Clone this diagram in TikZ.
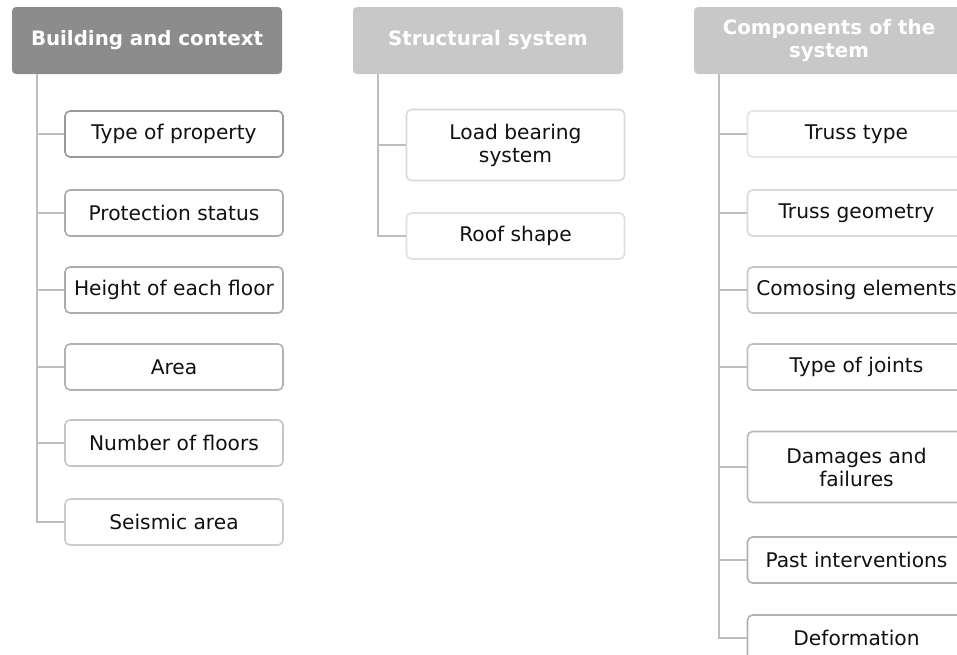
\documentclass[tikz,border=0pt]{standalone}
\usepackage{fontspec}
\setmainfont{DejaVu Sans}
\usetikzlibrary{positioning}

\definecolor{headdark}{HTML}{8C8C8C}
\definecolor{headlight}{HTML}{C8C8C8}
\definecolor{stem}{HTML}{BEBEBE}
\definecolor{ink}{HTML}{111111}

\tikzset{
  head/.style={rounded corners=4pt, text=white, font=\fontsize{19.8}{23}\selectfont\bfseries,
    minimum width=270pt, minimum height=67pt, align=center, inner sep=0pt},
  item/.style={draw=#1, line width=1.6pt, rounded corners=5pt, fill=white, text=ink,
    font=\fontsize{20.2}{23}\selectfont, minimum width=218pt, minimum height=46pt,
    align=center, inner sep=0pt},
  item/.default={gray!70},
  tall/.style={minimum height=71pt},
  trunk/.style={stem, line width=2.6pt}
}

\begin{document}
\begin{tikzpicture}[x=1pt,y=-1pt]
    \useasboundingbox[fill=white] (0,0) rectangle (957,654);

    % the three headers
    \node[head, fill=headdark]  (hb) at (147,40.5) {Building and context};
    \node[head, fill=headlight] (hs) at (488,40.5) {Structural system};
    \node[head, fill=headlight] (hc) at (829,40.5) {Components of the\\system};

    % first column
    \node[item=gray!80] (b1) at (174,134) {Type of property};
    \node[item=gray!65] (b2) at (174,213) {Protection status};
    \node[item=gray!65] (b3) at (174,290) {Height of each floor};
    \node[item=gray!60] (b4) at (174,367) {Area};
    \node[item=gray!45] (b5) at (174,443) {Number of floors};
    \node[item=gray!40] (b6) at (174,522) {Seismic area};

    % second column
    \node[item=gray!30, tall] (s1) at (515.5,145) {Load bearing\\system};
    \node[item=gray!25] (s2) at (515.5,236) {Roof shape};

    % third column
    \node[item=gray!20] (c1) at (856.5,134) {Truss type};
    \node[item=gray!30] (c2) at (856.5,213) {Truss geometry};
    \node[item=gray!45] (c3) at (856.5,290) {Comosing elements};
    \node[item=gray!50] (c4) at (856.5,367) {Type of joints};
    \node[item=gray!55, tall] (c5) at (856.5,467) {Damages and\\failures};
    \node[item=gray!60] (c6) at (856.5,560) {Past interventions};
    \node[item=gray!60] (c7) at (856.5,638) {Deformation};

    % stems under the headers
    \coordinate (tb) at ([xshift=25pt]hb.south west);
    \coordinate (ts) at ([xshift=25pt]hs.south west);
    \coordinate (tc) at ([xshift=25pt]hc.south west);

    \draw[trunk] (tb) |- (b6.west);
    \foreach \n in {b1,b2,b3,b4,b5}
      \draw[trunk] (tb |- \n.west) -- (\n.west);

    \draw[trunk] (ts) |- (s2.west);
    \draw[trunk] (ts |- s1.west) -- (s1.west);

    \draw[trunk] (tc) |- (c7.west);
    \foreach \n in {c1,c2,c3,c4,c5,c6}
      \draw[trunk] (tc |- \n.west) -- (\n.west);
\end{tikzpicture}
\end{document}
